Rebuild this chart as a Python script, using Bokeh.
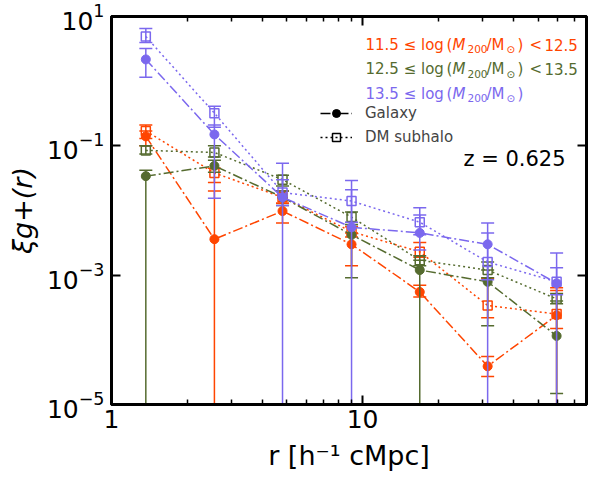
from bokeh.plotting import figure
from bokeh.models import (ColumnDataSource, FixedTicker, LogAxis, Label, Legend,
                          LegendItem, BasicTickFormatter, CustomJSTickFormatter)
from bokeh.embed import file_html
from bokeh.resources import INLINE

# bin centres, r [h^-1 cMpc]
r_bins = [1.37, 2.57, 4.80, 9.04, 16.9, 31.5, 59.3]

# 11.5 <= log M200 < 12.5
low_gal = [0.14, 0.0036, 0.0098, 0.0030, 0.00055, 3.9e-5, 0.00024]
low_gal_hi = [0.17, 0.02, 0.013, 0.0045, 0.0007, 5.5e-5, 0.00058]
low_gal_lo = [0.10, 1e-7, 0.0064, 0.0014, 0.00046, 2.7e-5, 1e-7]
low_dm = [0.17, 0.038, 0.016, 0.0047, 0.0023, 0.00034, 0.00025]
low_dm_hi = [0.21, 0.045, 0.02, 0.0056, 0.0032, 0.0009, 0.00064]
low_dm_lo = [0.13, 0.027, 0.013, 0.0039, 0.0019, 0.00022, 0.00015]

# 12.5 <= log M200 < 13.5
mid_gal = [0.034, 0.049, 0.016, 0.0042, 0.0012, 0.00079, 0.000115]
mid_gal_hi = [0.042, 0.06, 0.02, 0.0065, 0.0017, 0.0012, 0.0004]
mid_gal_lo = [1e-7, 0.039, 0.012, 0.00091, 1e-7, 0.000165, 1.48e-5]
mid_dm = [0.085, 0.079, 0.030, 0.0079, 0.0017, 0.0012, 0.00043]
mid_dm_hi = [0.10, 0.10, 0.035, 0.0095, 0.0020, 0.0016, 0.00052]
mid_dm_lo = [0.075, 0.067, 0.024, 0.0060, 0.0014, 0.00091, 0.00036]

# 13.5 <= log M200
high_gal = [2.17, 0.15, 0.016, 0.0055, 0.0045, 0.0030, 0.00075]
high_gal_hi = [3.2, 0.21, 0.054, 0.021, 0.0085, 0.0064, 0.0022]
high_gal_lo = [1.15, 0.0155, 1e-7, 1e-7, 0.00245, 1e-7, 1e-7]
high_dm = [4.9, 0.32, 0.019, 0.014, 0.0066, 0.0016, 0.00079]
high_dm_hi = [6.5, 0.41, 0.03, 0.029, 0.011, 0.0045, 0.0013]
high_dm_lo = [3.97, 0.194, 0.012, 0.0066, 0.0042, 0.00085, 0.0005]

bin_lo = ["11.5", "12.5", "13.5"]
bin_hi = ["12.5", "13.5", None]
colors = ["#FF4500", "#556B2F", "#7B68EE"]

FONT = "DejaVu Sans"
GAL_DASH = "10 3 2 3"
DM_DASH = "2 3"

p = figure(width=595, height=478, x_axis_type="log", y_axis_type="log",
           x_range=(1, 78), y_range=(1e-5, 10), output_backend="svg",
           toolbar_location=None, tools="",
           min_border_left=111, min_border_right=9, min_border_top=16, min_border_bottom=74)
p.grid.visible = False
p.outline_line_color = "black"
p.outline_line_width = 3

x_ticker = FixedTicker(ticks=[1, 10], minor_ticks=[2, 3, 4, 5, 6, 7, 8, 9, 20, 30, 40, 50, 60, 70])
y_ticker = FixedTicker(ticks=[1e-5, 1e-3, 1e-1, 10], minor_ticks=[])


def style_axis(ax, ticker):
    ax.ticker = ticker
    ax.axis_line_color = "black"
    ax.axis_line_width = 3
    ax.major_tick_in = 9
    ax.major_tick_out = 0
    ax.minor_tick_in = 5
    ax.minor_tick_out = 0
    ax.major_tick_line_width = 2
    ax.minor_tick_line_width = 1.5
    ax.major_label_text_font = FONT
    ax.major_label_text_font_size = "25px"
    ax.major_label_text_color = "black"
    ax.axis_label_text_font = FONT
    ax.axis_label_text_color = "black"
    ax.axis_label_text_font_size = "27px"


style_axis(p.xaxis[0], x_ticker)
p.xaxis[0].formatter = BasicTickFormatter()
p.xaxis[0].major_label_standoff = 5
p.xaxis[0].axis_label = "r [h⁻¹ cMpc]"
p.xaxis[0].axis_label_text_font_style = "normal"
p.xaxis[0].axis_label_standoff = 9

style_axis(p.yaxis[0], y_ticker)
p.yaxis[0].major_label_standoff = 7
p.yaxis[0].axis_label = "ξg+(r)"
p.yaxis[0].axis_label_text_font_style = "italic"
p.yaxis[0].axis_label_standoff = 6

# mirrored axes carry only the inward ticks
blank = CustomJSTickFormatter(code="return ' '")
top = LogAxis()
style_axis(top, x_ticker)
top.formatter = blank
top.major_label_text_font_size = "4px"
top.major_label_standoff = 0
p.add_layout(top, "above")
right = LogAxis()
style_axis(right, y_ticker)
right.formatter = blank
right.major_label_text_font_size = "4px"
right.major_label_standoff = 0
p.add_layout(right, "right")

series = [
    (low_gal, low_gal_lo, low_gal_hi, low_dm, low_dm_lo, low_dm_hi),
    (mid_gal, mid_gal_lo, mid_gal_hi, mid_dm, mid_dm_lo, mid_dm_hi),
    (high_gal, high_gal_lo, high_gal_hi, high_dm, high_dm_lo, high_dm_hi),
]

for (gal, gal_lo, gal_hi, dm, dm_lo, dm_hi), c in zip(series, colors):
    for y, lo, hi, kind in ((gal, gal_lo, gal_hi, "gal"), (dm, dm_lo, dm_hi, "dm")):
        src = ColumnDataSource(dict(x=r_bins, y=y, lo=lo, hi=hi))
        p.segment(x0="x", y0="lo", x1="x", y1="hi", source=src, line_color=c, line_width=1.5)
        p.scatter(x="x", y="lo", source=src, marker="dash", size=13, line_color=c, line_width=1.5)
        p.scatter(x="x", y="hi", source=src, marker="dash", size=13, line_color=c, line_width=1.5)
        if kind == "gal":
            p.line(x="x", y="y", source=src, line_color=c, line_width=1.5, line_dash=GAL_DASH)
            p.scatter(x="x", y="y", source=src, marker="circle", size=9, fill_color=c, line_color=c)
        else:
            p.line(x="x", y="y", source=src, line_color=c, line_width=1.5, line_dash=DM_DASH)
            p.scatter(x="x", y="y", source=src, marker="square", size=9, fill_alpha=0,
                      line_color=c, line_width=1.5)


def put(text, x, y, size, color="black", style="normal"):
    p.add_layout(Label(x=x, y=y, x_units="screen", y_units="screen", text=text,
                       text_font=FONT, text_font_size=f"{size}px", text_font_style=style,
                       text_color=color, text_align="left", text_baseline="alphabetic"))


# mass-bin labels
for i, (lo, hi, c) in enumerate(zip(bin_lo, bin_hi, colors)):
    y0 = 360 - 24.5 * i
    x0 = 254
    put(f"{lo} ≤ log", x0, y0, 15, c)
    put("(", x0 + 81, y0, 15, c)
    put("M", x0 + 87, y0, 15, c, "italic")
    put("200", x0 + 102, y0 - 4.5, 10.5, c)
    put("/M", x0 + 121, y0, 15, c)
    put("⊙", x0 + 141, y0 - 4.5, 10.5, c)
    put(")", x0 + 152, y0, 15, c)
    if hi is not None:
        put("<", x0 + 164, y0, 15, c)
        put(hi, x0 + 179, y0, 15, c)

put("z = 0.625", 352, 246, 21)

# legend for galaxy / DM subhalo markers (proxies, never shown in the frame)
proxy = ColumnDataSource(dict(x=r_bins, y=high_dm))
g_line = p.line(x="x", y="y", source=proxy, line_color="black", line_width=1.5,
                line_dash=GAL_DASH, visible=False)
g_pt = p.scatter(x="x", y="y", source=proxy, marker="circle", size=9, fill_color="black",
                 line_color="black", visible=False)
d_line = p.line(x="x", y="y", source=proxy, line_color="black", line_width=1.5,
                line_dash=DM_DASH, visible=False)
d_pt = p.scatter(x="x", y="y", source=proxy, marker="square", size=9, fill_alpha=0,
                 line_color="black", line_width=1.5, visible=False)
legend = Legend(items=[LegendItem(label="Galaxy", renderers=[g_line, g_pt]),
                       LegendItem(label="DM subhalo", renderers=[d_line, d_pt])],
                location=(209, 257), padding=0, margin=0, spacing=4,
                glyph_width=32, glyph_height=20, label_height=20, label_standoff=13,
                label_text_font=FONT, label_text_font_size="15px",
                border_line_color=None, background_fill_alpha=0, inactive_fill_alpha=0)
p.add_layout(legend)

open("out.html", "w").write(file_html(p, INLINE))
